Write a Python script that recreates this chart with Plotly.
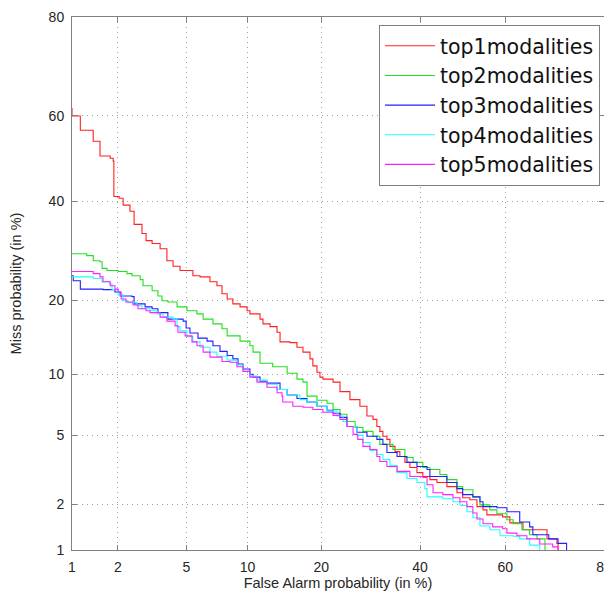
import plotly.graph_objects as go
from statistics import NormalDist

# ---- data (percent) ----
tick_vals = [1, 2, 5, 10, 20, 40, 60, 80]
tick_text = ["1", "2", "5", "10", "20", "40", "60", "80"]

series_names = ["top1modalities", "top2modalities", "top3modalities", "top4modalities", "top5modalities"]
series_colors = ["#ff2020", "#20e020", "#2020ff", "#20ffff", "#ff20ff"]

top1_fa = [1.0, 1.0, 1.14, 1.39, 1.54, 1.79, 1.87, 1.89, 2.04, 2.16, 2.38, 2.52, 2.81, 2.97, 3.22, 3.58, 3.91, 4.23, 4.62, 5.41,
           5.89, 6.62, 7.17, 7.59, 8.04, 8.56, 9.25, 9.96, 10.26, 11.38, 11.72, 12.57, 13.45, 13.84, 15.19, 16.19, 17.08, 18.17, 18.62, 19.28,
           19.77, 20.27, 22.01, 23.25, 25.10, 27.03, 28.43, 29.67, 30.47, 31.10, 31.74, 32.60, 33.25, 34.35, 35.42, 36.54, 37.67, 39.28, 40.63, 42.27,
           43.92, 46.26, 48.64, 50.0, 51.71, 53.39, 54.82, 55.73, 59.4, 61.07, 64.02, 69.22, 71.27, 71.5]
top1_miss = [61.8, 60.0, 56.7, 54.1, 50.6, 50.1, 49.4, 41.1, 40.7, 39.1, 37.7, 34.8, 32.8, 31.3, 30.7, 29.6, 27.2, 26.1, 25.3, 24.3,
             24.1, 23.2, 22.5, 21.1, 20.2, 19.4, 18.9, 18.3, 17.8, 17.0, 16.3, 15.9, 15.1, 13.8, 13.7, 13.1, 12.5, 11.7, 10.9, 10.2,
             9.7, 9.5, 9.2, 8.3, 7.6, 7.05, 6.3, 6.06, 5.57, 5.25, 4.94, 4.76, 4.36, 4.08, 3.83, 3.55, 3.32, 3.10, 2.94, 2.82,
             2.71, 2.56, 2.35, 2.19, 2.13, 1.93, 1.84, 1.71, 1.66, 1.52, 1.37, 1.19, 1.11, 1.0]

top2_fa = [1.0, 1.26, 1.39, 1.54, 1.59, 1.71, 2.01, 2.28, 2.45, 2.74, 2.85, 3.22, 3.48, 3.67, 3.96, 4.45, 5.03, 5.68, 6.11, 6.85,
           7.59, 8.04, 9.25, 10.26, 10.6, 11.38, 12.9, 14.8, 16.19, 17.08, 17.70, 19.28, 20.96, 22.01, 23.25, 24.53, 26.1, 27.63, 29.67, 31.10,
           33.9, 36.54, 38.4, 40.63, 42.27, 44.6, 46.26, 48.64, 50.0, 52.43, 54.10, 56.44, 58.08, 60.4, 61.8, 63.8, 65.5, 67.1, 68.8]
top2_miss = [28.6, 28.2, 27.2, 27.0, 25.7, 25.3, 25.1, 24.7, 24.3, 23.6, 22.5, 21.6, 20.7, 19.9, 19.7, 18.9, 18.3, 17.8, 17.0, 16.3,
             15.6, 14.6, 13.9, 13.3, 12.5, 11.2, 10.8, 10.1, 9.5, 9.2, 7.9, 7.55, 7.3, 6.8, 6.43, 5.91, 5.5, 5.25, 4.94, 4.47,
             4.19, 3.78, 3.55, 3.32, 3.23, 3.02, 2.82, 2.56, 2.45, 2.22, 1.98, 1.84, 1.74, 1.59, 1.50, 1.37, 1.27, 1.19, 1.0]

top3_fa = [1.0, 1.02, 1.14, 1.61, 1.92, 2.07, 2.45, 2.52, 2.93, 3.22, 3.48, 3.96, 4.80, 4.98, 5.22, 5.75, 6.40, 6.85, 7.42, 8.04,
           8.56, 9.05, 9.55, 10.26, 10.6, 11.38, 12.2, 13.84, 14.8, 16.19, 17.70, 19.28, 20.96, 22.01, 23.25, 24.53, 26.44, 28.43, 30.47, 31.74,
           32.60, 34.8, 37.0, 39.28, 41.6, 42.27, 46.26, 48.64, 50.0, 52.43, 54.10, 54.82, 58.08, 60.4, 63.3, 65.5, 66.2, 69.6, 71.5, 73.2]
top3_miss = [24.3, 23.4, 21.9, 21.8, 21.4, 20.7, 20.6, 19.4, 18.9, 18.6, 18.0, 17.0, 16.7, 15.7, 15.0, 14.3, 13.9, 13.3, 12.6, 12.1,
             11.7, 11.1, 10.55, 10.0, 9.7, 9.3, 9.1, 8.5, 8.0, 7.7, 7.4, 7.05, 6.74, 6.51, 6.20, 5.57, 5.19, 4.94, 4.76, 4.47,
             4.03, 3.83, 3.55, 3.36, 3.23, 2.94, 2.71, 2.49, 2.29, 2.22, 2.07, 1.93, 1.90, 1.79, 1.54, 1.43, 1.27, 1.19, 1.11, 1.0]

top4_fa = [1.0, 1.39, 1.59, 1.79, 1.84, 2.01, 2.16, 2.31, 2.62, 2.81, 3.13, 3.44, 3.72, 4.23, 4.45, 4.62, 5.03, 5.41, 5.89, 6.62,
           7.17, 8.04, 8.95, 9.55, 10.26, 11.03, 12.2, 13.45, 14.8, 16.62, 17.70, 19.28, 20.96, 22.71, 23.8, 24.53, 26.44, 27.63, 29.05, 30.47,
           31.74, 33.25, 34.8, 37.0, 39.28, 41.1, 41.6, 45.3, 47.7, 49.36, 51.0, 52.43, 54.10, 56.44, 58.8, 61.8, 63.3, 65.5, 67.7]
top4_miss = [24.1, 23.8, 23.2, 22.8, 21.8, 20.9, 19.9, 19.6, 19.1, 18.6, 18.3, 17.8, 17.3, 17.0, 15.9, 15.3, 14.5, 13.8, 13.1, 12.5,
             12.0, 11.55, 11.0, 10.3, 9.8, 9.4, 9.0, 8.5, 8.0, 7.6, 7.4, 7.05, 6.67, 6.3, 5.91, 5.57, 5.0, 4.58, 4.14, 3.93,
             3.68, 3.40, 3.10, 2.86, 2.71, 2.49, 2.22, 2.16, 2.07, 1.96, 1.79, 1.64, 1.45, 1.37, 1.25, 1.24, 1.19, 1.08, 1.0]

top5_fa = [1.0, 1.39, 1.54, 1.61, 1.79, 1.92, 2.01, 2.10, 2.25, 2.48, 2.66, 2.97, 3.13, 3.58, 3.91, 4.34, 4.50, 4.92, 5.35, 5.68,
           6.11, 6.62, 7.59, 8.30, 8.95, 9.55, 10.26, 11.03, 12.2, 13.45, 14.1, 14.2, 15.6, 17.08, 18.62, 20.27, 22.01, 23.25, 24.53, 25.7,
           26.6, 27.63, 29.05, 30.47, 31.10, 32.60, 34.8, 37.67, 40.63, 41.6, 43.0, 45.3, 47.7, 49.36, 51.0, 52.43, 53.39, 54.82, 57.1, 59.4,
           60.4, 62.67, 64.9, 67.7, 70.4, 71.5]
top5_miss = [25.1, 24.7, 24.1, 23.2, 22.5, 21.9, 21.4, 20.2, 19.7, 19.2, 18.6, 18.3, 18.0, 17.3, 16.7, 16.0, 15.1, 14.6, 13.8, 13.3,
             12.5, 11.9, 11.4, 11.3, 10.8, 10.3, 9.7, 9.2, 8.7, 8.2, 7.9, 7.4, 7.05, 6.97, 6.8, 6.58, 6.35, 6.06, 5.57, 5.06,
             4.76, 4.36, 4.19, 3.83, 3.59, 3.36, 3.15, 2.94, 2.90, 2.63, 2.35, 2.29, 2.19, 2.07, 1.93, 1.76, 1.61, 1.50, 1.43, 1.39,
             1.30, 1.25, 1.19, 1.10, 1.05, 1.0]

fa_all = [top1_fa, top2_fa, top3_fa, top4_fa, top5_fa]
miss_all = [top1_miss, top2_miss, top3_miss, top4_miss, top5_miss]

# ---- normal-deviate (probit) scale ----
_nd = NormalDist()


def probit(pct):
    return _nd.inv_cdf(pct / 100.0)


FONT = "Liberation Sans, Arial, sans-serif"

fig = go.Figure()
for name, color, fa, miss in zip(series_names, series_colors, fa_all, miss_all):
    fig.add_trace(go.Scatter(
        x=[probit(v) for v in fa],
        y=[probit(v) for v in miss],
        mode="lines",
        line=dict(color=color, width=1.1, shape="hv"),
        name=name,
    ))

tick_pos = [probit(v) for v in tick_vals]
rng = [probit(tick_vals[0]), probit(tick_vals[-1])]

axis_common = dict(
    range=rng,
    tickmode="array",
    tickvals=tick_pos,
    ticktext=tick_text,
    showgrid=True,
    gridcolor="#a0a0a0",
    griddash="1px,4px",
    gridwidth=1,
    zeroline=False,
    showline=True,
    linecolor="#808080",
    linewidth=1,
    mirror="ticks",
    ticks="inside",
    ticklen=5,
    tickcolor="#808080",
    tickfont=dict(family=FONT, size=14, color="#262626"),
    automargin=False,
)

fig.update_xaxes(
    **axis_common,
    ticklabelstandoff=4,
    title=dict(text="False Alarm probability (in %)",
               font=dict(family=FONT, size=14.5, color="#262626"),
               standoff=0),
)
fig.update_yaxes(
    **axis_common,
    ticklabelstandoff=4,
    title=dict(text="Miss probability (in %)",
               font=dict(family=FONT, size=14.5, color="#262626"),
               standoff=34),
)

# The page body adds an 8px offset, so margins are shifted to keep the plot area in place.
fig.update_layout(
    width=612,
    height=583,
    margin=dict(l=64, r=16, t=9, b=41, autoexpand=False),
    paper_bgcolor="white",
    plot_bgcolor="white",
    showlegend=True,
    legend=dict(
        x=0.9925, y=0.985, xanchor="right", yanchor="top",
        bgcolor="white",
        bordercolor="#808080",
        borderwidth=1,
        font=dict(family="DejaVu Sans, sans-serif", size=20.5, color="#111111"),
        tracegroupgap=0,
        itemwidth=50,
    ),
)

fig.write_html("out.html")
